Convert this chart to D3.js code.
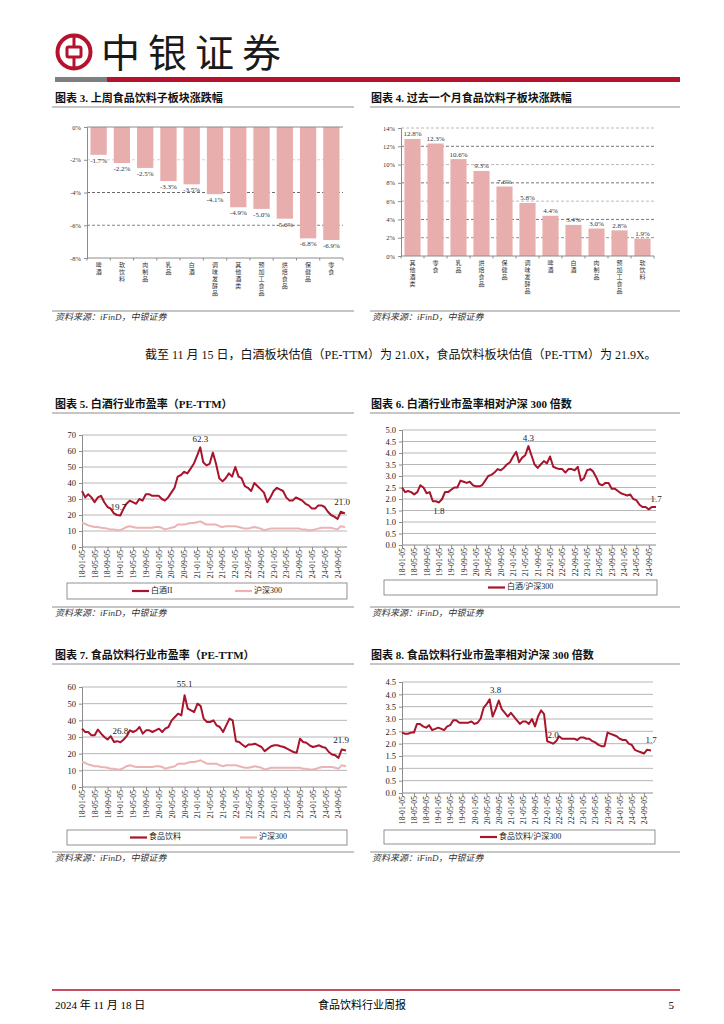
<!DOCTYPE html>
<html>
<head>
<meta charset="utf-8">
<script src="https://cdn.jsdelivr.net/npm/d3@7"></script>
<style>
  body { margin: 0; background: #fff; }
  svg { display: block; font-family: "Liberation Serif", "Noto Sans CJK SC", serif; }
</style>
</head>
<body>
<svg id="page" width="724" height="1024"></svg>
<script>
const weekCats = ["啤酒", "软饮料", "肉制品", "乳品", "白酒", "调味发酵品", "其他酒类", "预加工食品", "烘焙食品", "保健品", "零食"];
const weekChg = [-1.7, -2.2, -2.5, -3.3, -3.5, -4.1, -4.9, -5.0, -5.6, -6.8, -6.9];

const monthCats = ["其他酒类", "零食", "乳品", "烘焙食品", "保健品", "调味发酵品", "啤酒", "白酒", "肉制品", "预加工食品", "软饮料"];
const monthChg = [12.8, 12.3, 10.6, 9.3, 7.6, 5.8, 4.4, 3.4, 3.0, 2.8, 1.9];

const xTickLabels = ["18-01-05", "18-05-05", "18-09-05", "19-01-05", "19-05-05", "19-09-05",
  "20-01-05", "20-05-05", "20-09-05", "21-01-05", "21-05-05", "21-09-05", "22-01-05",
  "22-05-05", "22-09-05", "23-01-05", "23-05-05", "23-09-05", "24-01-05", "24-05-05", "24-09-05"];

// one observation per month (the 5th), 2018-01 .. 2024-10, then 2024-11-15
const obsDates = d3.range(82).map(i => d3.timeMonth.offset(new Date(2018, 0, 5), i))
  .concat([new Date(2024, 10, 15)]);

const baijiuPE = [
  35, 31, 33, 31, 28, 31, 32, 28, 25, 24, 21, 20,
  19.7, 24, 27, 29, 28, 27, 30, 29, 33, 33, 32, 32,
  32, 30, 29, 31, 34, 37, 44, 45, 47, 46, 49, 52,
  57, 62.3, 53, 51, 52, 59, 52, 43, 41, 43, 46, 44,
  50, 44, 43, 38, 37, 35, 40, 38, 36, 34, 28, 31,
  35, 37, 36, 35, 31, 29, 29, 31, 30, 29, 27, 26,
  24, 24, 26, 26, 25, 22, 20, 19, 17.5, 22, 21.0];

const hs300PE = [
  15, 14.5, 13.5, 13, 12.5, 12.5, 12, 11.8, 11.5, 11, 11, 10.5,
  10.5, 11.5, 12.5, 13, 12.5, 12, 12, 12, 12, 12, 12, 12.5,
  12.5, 12, 11, 11.5, 12, 12.5, 14, 14, 14, 14.5, 15, 15,
  15.5, 16, 15, 14, 14, 14, 14, 13, 12.5, 13, 13, 13,
  13, 12.5, 12, 11.5, 11.5, 12, 12.5, 12, 11.5, 10.5, 11, 11.5,
  11.5, 11.5, 11.5, 11.5, 11.5, 11.5, 11.5, 11.5, 11.5, 11, 11, 10.5,
  10.5, 11, 11.5, 12, 12, 12, 12, 11.5, 11, 13, 12.5];

const baijiuRel = [
  2.5, 2.3, 2.35, 2.3, 2.2, 2.3, 2.6, 2.5, 2.25, 2.3, 1.9, 1.9,
  1.85, 2.0, 2.3, 2.3, 2.4, 2.5, 2.5, 2.8, 2.75, 2.7, 2.75, 2.6,
  2.55, 2.55, 2.6, 2.8, 3.0, 3.05, 3.15, 3.3, 3.25, 3.35, 3.5, 3.6,
  3.85, 4.05, 3.6, 3.8, 3.9, 4.3, 3.9, 3.5, 3.35, 3.5, 3.65, 3.55,
  3.85, 3.4, 3.35, 3.3, 3.3, 3.15, 3.3, 3.3, 3.25, 3.4, 2.8, 2.9,
  3.25, 3.3, 3.2, 2.95, 2.65, 2.6, 2.7, 2.7, 2.45, 2.45, 2.35, 2.25,
  2.2, 2.15, 2.2, 2.0, 1.95, 1.75, 1.65, 1.65, 1.55, 1.65, 1.65];

const foodPE = [
  35, 33, 33, 31, 31, 34.5, 32, 30, 28.5, 30.5, 27, 27.5,
  26.8, 28.5, 30.5, 34, 33, 34, 36, 32, 34, 34, 33, 34,
  35, 33, 35, 36, 40, 42, 44, 43, 55.1, 47, 46, 45,
  50, 48.5, 41, 39, 39, 40, 37, 36, 33, 37, 41, 40,
  27.5, 27, 25.5, 24, 25.5, 25.5, 26, 25, 24, 21.5, 23, 24.5,
  25, 25, 24.5, 24, 23, 22, 21, 20.5, 29, 27, 26.5, 25,
  24, 24.5, 25, 24, 23.5, 21, 19.5, 19, 17.5, 22.5, 21.9];

const foodRel = [
  2.45, 2.4, 2.4, 2.45, 2.45, 2.8, 2.8, 2.7, 2.65, 2.75, 2.55, 2.6,
  2.65, 2.6, 2.55, 2.7, 2.75, 2.95, 2.95, 2.85, 2.85, 2.85, 2.85, 2.9,
  2.8, 2.85, 3.0, 3.45, 3.6, 3.8, 3.1, 3.4, 3.75, 3.4, 3.25, 3.1,
  3.25, 3.1, 2.95, 2.8, 2.9, 2.9, 2.8, 3.0, 2.7, 3.1, 3.35, 3.2,
  2.1, 2.05, 2.0, 2.1, 2.3, 2.2, 2.2, 2.2, 2.2, 2.2, 2.15, 2.25,
  2.25, 2.2, 2.2, 2.1, 2.05, 1.95, 1.9, 1.9, 2.45, 2.4, 2.35, 2.3,
  2.2, 2.15, 2.15, 2.0, 1.95, 1.75, 1.7, 1.65, 1.6, 1.75, 1.72];

// ---- page ----
const RED = "#B5122E", LINE_RED = "#A8142C", PINK = "#EDB3B3", BAR = "#E8ADAD", GRAY = "#8c8c8c";
const CJK = "'Noto Sans CJK SC', sans-serif";
const svg = d3.select("#page");
const parseTick = d3.timeParse("%y-%m-%d");

// header logo
let logo = svg.append("g").attr("transform", "translate(74,52)");
logo.append("circle").attr("r", 16.5).attr("fill", "none").attr("stroke", RED).attr("stroke-width", 4);
logo.append("rect").attr("x", -7).attr("y", -5).attr("width", 14).attr("height", 10).attr("rx", 1.5)
  .attr("fill", "none").attr("stroke", RED).attr("stroke-width", 3);
logo.append("line").attr("y1", -16).attr("y2", -5).attr("stroke", RED).attr("stroke-width", 3);
logo.append("line").attr("y1", 5).attr("y2", 16).attr("stroke", RED).attr("stroke-width", 3);

svg.append("text").attr("x", 101).attr("y", 67).text("中银证券")
  .style("font-family", CJK).style("font-size", "39px").style("font-weight", 400)
  .style("letter-spacing", "8px").attr("fill", "#1a1a1a");

svg.append("rect").attr("x", 55).attr("y", 77).attr("width", 52).attr("height", 5).attr("fill", "#7f7f7f");
svg.append("rect").attr("x", 107).attr("y", 77).attr("width", 573).attr("height", 5).attr("fill", RED);

function title(x, y, txt, lx1, lx2) {
  svg.append("text").attr("x", x).attr("y", y).text(txt)
    .style("font-size", "11px").style("font-weight", "bold").attr("fill", "#111");
  svg.append("line").attr("x1", lx1).attr("x2", lx2).attr("y1", y + 5).attr("y2", y + 5)
    .attr("stroke", GRAY).attr("stroke-width", 1);
}

function source(x, y, lx1, lx2) {
  svg.append("line").attr("x1", lx1).attr("x2", lx2).attr("y1", y - 9).attr("y2", y - 9)
    .attr("stroke", GRAY).attr("stroke-width", 1);
  svg.append("text").attr("x", x).attr("y", y).text("资料来源：iFinD，中银证券")
    .style("font-size", "9px").style("font-style", "italic").attr("fill", "#333");
}

title(55, 102, "图表 3. 上周食品饮料子板块涨跌幅", 52, 354);
title(371, 102, "图表 4. 过去一个月食品饮料子板块涨跌幅", 370, 680);
source(55, 320, 52, 354);
source(372, 320, 370, 680);

svg.append("text").attr("x", 145).attr("y", 359)
  .text("截至 11 月 15 日，白酒板块估值（PE-TTM）为 21.0X，食品饮料板块估值（PE-TTM）为 21.9X。")
  .style("font-size", "12px").attr("fill", "#111");

title(55, 408, "图表 5. 白酒行业市盈率（PE-TTM）", 52, 354);
title(371, 408, "图表 6. 白酒行业市盈率相对沪深 300 倍数", 370, 680);
source(55, 616, 52, 354);
source(372, 616, 370, 680);

title(55, 659, "图表 7. 食品饮料行业市盈率（PE-TTM）", 52, 354);
title(371, 659, "图表 8. 食品饮料行业市盈率相对沪深 300 倍数", 370, 680);
source(55, 861, 52, 354);
source(372, 861, 370, 680);

// footer
svg.append("line").attr("x1", 52).attr("x2", 680).attr("y1", 990).attr("y2", 990)
  .attr("stroke", RED).attr("stroke-width", 1.5);
svg.append("text").attr("x", 55).attr("y", 1009).text("2024 年 11 月 18 日").style("font-size", "11px");
svg.append("text").attr("x", 362).attr("y", 1009).attr("text-anchor", "middle").text("食品饮料行业周报").style("font-size", "11px");
svg.append("text").attr("x", 674).attr("y", 1009).attr("text-anchor", "end").text("5").style("font-size", "11px");

// ---- bar charts ----
function barChart(o) {
  let g = svg.append("g");
  let x = d3.scaleBand().domain(o.cats).range([o.x0, o.x1]).paddingInner(0.3).paddingOuter(0.15);
  let y = d3.scaleLinear().domain(o.domain).range([o.yBot, o.yTop]);

  // grid
  o.grid.forEach(([v, col]) => {
    g.append("line").attr("x1", o.x0).attr("x2", o.x1).attr("y1", y(v)).attr("y2", y(v))
      .attr("stroke", col).attr("stroke-width", 0.8).attr("stroke-dasharray", "3,2");
  });

  // bars
  g.selectAll(".bar").data(o.vals).enter().append("rect")
    .attr("x", (d, i) => x(o.cats[i]))
    .attr("width", x.bandwidth())
    .attr("y", d => Math.min(y(0), y(d)))
    .attr("height", d => Math.abs(y(d) - y(0)))
    .attr("fill", BAR);

  // axes
  let yAxis = d3.axisLeft(y).tickValues(o.ticks).tickSize(3).tickFormat(d => d + "%");
  g.append("g").attr("transform", `translate(${o.x0},0)`).call(yAxis)
    .call(a => a.select(".domain").attr("stroke", GRAY))
    .call(a => a.selectAll(".tick line").attr("stroke", GRAY))
    .call(a => a.selectAll("text").style("font-size", "6.5px").attr("fill", "#333")
      .style("font-family", "'Liberation Serif', serif"));

  g.append("line").attr("x1", o.x0).attr("x2", o.x1).attr("y1", o.axisY).attr("y2", o.axisY)
    .attr("stroke", GRAY).attr("stroke-width", 1);
  d3.range(o.cats.length + 1).forEach(i => {
    let xx = i === 0 ? o.x0 : Math.min(o.x1, x(o.cats[i - 1]) + x.bandwidth() + x.step() * 0.15);
    g.append("line").attr("x1", xx).attr("x2", xx).attr("y1", o.axisY).attr("y2", o.axisY + 2.5)
      .attr("stroke", GRAY);
  });

  // value labels
  g.selectAll(".vl").data(o.vals).enter().append("text")
    .attr("x", (d, i) => x(o.cats[i]) + x.bandwidth() / 2)
    .attr("y", d => d < 0 ? y(d) + 8 : y(d) - 2.5)
    .attr("text-anchor", "middle")
    .style("font-size", "7px").attr("fill", "#333")
    .text(d => d.toFixed(1) + "%");

  // vertical category labels, one character per line
  o.cats.forEach(c => {
    let t = g.append("text").attr("text-anchor", "middle")
      .style("font-family", CJK).style("font-size", "6px").attr("fill", "#333");
    Array.from(c).forEach((ch, k) => {
      t.append("tspan").attr("x", x(c) + x.bandwidth() / 2).attr("y", o.axisY + 9 + k * 7).text(ch);
    });
  });
}

barChart({ cats: weekCats, vals: weekChg, x0: 87, x1: 343, yTop: 127, yBot: 258, axisY: 258,
  domain: [-8, 0], ticks: [0, -2, -4, -6, -8],
  grid: [[-2, "#c8c8c8"], [-4, "#444"], [-6, "#666"]] });

svg.append("line").attr("x1", 87).attr("x2", 343).attr("y1", 127).attr("y2", 127)
  .attr("stroke", GRAY).attr("stroke-width", 1);

barChart({ cats: monthCats, vals: monthChg, x0: 401, x1: 654, yTop: 128, yBot: 256, axisY: 256,
  domain: [0, 14], ticks: [0, 2, 4, 6, 8, 10, 12, 14],
  grid: [[14, "#aaa"], [12, "#555"], [10, "#aaa"], [8, "#555"], [6, "#aaa"], [4, "#555"], [2, "#777"]] });

// ---- line charts ----
function lineChart(o) {
  let g = svg.append("g");
  let x = d3.scaleTime().domain([obsDates[0], obsDates[obsDates.length - 1]]).range([o.x0, o.x1]);
  let y = d3.scaleLinear().domain([0, o.yMax]).range([o.yBot, o.yTop]);
  let ticks = d3.range(0, o.yMax + o.step / 2, o.step);

  ticks.slice(1).forEach(v => {
    g.append("line").attr("x1", o.x0).attr("x2", o.gridEnd).attr("y1", y(v)).attr("y2", y(v))
      .attr("stroke", "#a3a3a3").attr("stroke-width", 0.8);
  });

  let yAxis = d3.axisLeft(y).tickValues(ticks).tickSize(3).tickFormat(o.fmt);
  g.append("g").attr("transform", `translate(${o.x0},0)`).call(yAxis)
    .call(a => a.select(".domain").attr("stroke", GRAY))
    .call(a => a.selectAll(".tick line").attr("stroke", GRAY))
    .call(a => a.selectAll("text").style("font-size", "8.5px").attr("fill", "#222")
      .style("font-family", "'Liberation Serif', serif"));

  let xAxis = d3.axisBottom(x).tickValues(xTickLabels.map(parseTick)).tickSize(3)
    .tickFormat(d3.timeFormat("%y-%m-%d"));
  g.append("g").attr("transform", `translate(0,${o.yBot})`).call(xAxis)
    .call(a => a.select(".domain").attr("stroke", GRAY).attr("d", `M${o.x0},0H${o.gridEnd}`))
    .call(a => a.selectAll(".tick line").attr("stroke", GRAY))
    .call(a => a.selectAll("text").style("font-size", "7.7px").attr("fill", "#222")
      .style("font-family", "'Liberation Serif', serif")
      .attr("text-anchor", "end").attr("transform", "rotate(-90)")
      .attr("x", -3).attr("y", 0).attr("dy", "0.32em"));

  let line = d3.line().x((d, i) => x(obsDates[i])).y(d => y(d));
  o.series.forEach(s => {
    g.append("path").datum(s.values).attr("d", line).attr("fill", "none")
      .attr("stroke", s.color).attr("stroke-width", s.width).attr("stroke-linejoin", "round");
  });

  // annotations at points of the main series
  let main = o.series[0].values;
  o.notes.forEach(n => {
    let i = n.idx(main);
    g.append("text").attr("x", x(obsDates[i]) + (n.dx || 0)).attr("y", y(main[i]) + n.dy)
      .attr("text-anchor", "middle").attr("dominant-baseline", "middle")
      .style("font-size", "9px").attr("fill", "#222").text(n.text);
  });

  // legend
  let lg = g.append("g");
  lg.append("rect").attr("x", o.legend.x).attr("y", o.legend.y).attr("width", o.legend.w).attr("height", o.legend.h)
    .attr("fill", "#fff").attr("stroke", "#777").attr("stroke-width", 0.8);
  o.series.forEach((s, k) => {
    let lx = o.legend.items[k];
    let ly = o.legend.y + o.legend.h / 2;
    lg.append("line").attr("x1", lx).attr("x2", lx + 17).attr("y1", ly).attr("y2", ly)
      .attr("stroke", s.color).attr("stroke-width", 2.2);
    lg.append("text").attr("x", lx + 19).attr("y", ly).attr("dominant-baseline", "middle")
      .style("font-size", "8px").attr("fill", "#222").text(s.name);
  });
}

const argMax = a => d3.maxIndex(a);
const argLast = a => a.length - 1;
const argMinIn = (lo, hi) => a => lo + d3.minIndex(a.slice(lo, hi));

lineChart({ x0: 82, x1: 345, gridEnd: 347, yTop: 435, yBot: 547, yMax: 70, step: 10, fmt: d3.format("d"),
  series: [{ name: "白酒II", values: baijiuPE, color: LINE_RED, width: 2 },
           { name: "沪深300", values: hs300PE, color: PINK, width: 2 }],
  notes: [{ text: "62.3", idx: argMax, dy: -7 },
          { text: "19.7", idx: argMinIn(0, 24), dy: -8, dx: -2 },
          { text: "21.0", idx: argLast, dy: -10, dx: -3 }],
  legend: { x: 67, y: 583, w: 280, h: 16, items: [132, 235] } });

lineChart({ x0: 402, x1: 656, gridEnd: 656, yTop: 430, yBot: 545, yMax: 5, step: 0.5, fmt: d3.format(".1f"),
  series: [{ name: "白酒/沪深300", values: baijiuRel, color: LINE_RED, width: 2 }],
  notes: [{ text: "4.3", idx: argMax, dy: -7 },
          { text: "1.8", idx: argMinIn(0, 24), dy: 9 },
          { text: "1.7", idx: argLast, dy: -7 }],
  legend: { x: 384, y: 580, w: 273, h: 15, items: [488] } });

lineChart({ x0: 82, x1: 346, gridEnd: 347, yTop: 687, yBot: 787, yMax: 60, step: 10, fmt: d3.format("d"),
  series: [{ name: "食品饮料", values: foodPE, color: LINE_RED, width: 2 },
           { name: "沪深300", values: hs300PE, color: PINK, width: 2 }],
  notes: [{ text: "55.1", idx: argMax, dy: -10 },
          { text: "26.8", idx: argMinIn(0, 24), dy: -10 },
          { text: "21.9", idx: argLast, dy: -10, dx: -5 }],
  legend: { x: 67, y: 830, w: 280, h: 15, items: [130, 240] } });

lineChart({ x0: 402, x1: 651, gridEnd: 653, yTop: 682, yBot: 793, yMax: 4.5, step: 0.5, fmt: d3.format(".1f"),
  series: [{ name: "食品饮料/沪深300", values: foodRel, color: LINE_RED, width: 2 }],
  notes: [{ text: "3.8", idx: argMax, dy: -8, dx: 6 },
          { text: "2.0", idx: argMinIn(48, 60), dy: -8 },
          { text: "1.7", idx: argLast, dy: -10 }],
  legend: { x: 384, y: 830, w: 271, h: 14, items: [480] } });
</script>
</body>
</html>
